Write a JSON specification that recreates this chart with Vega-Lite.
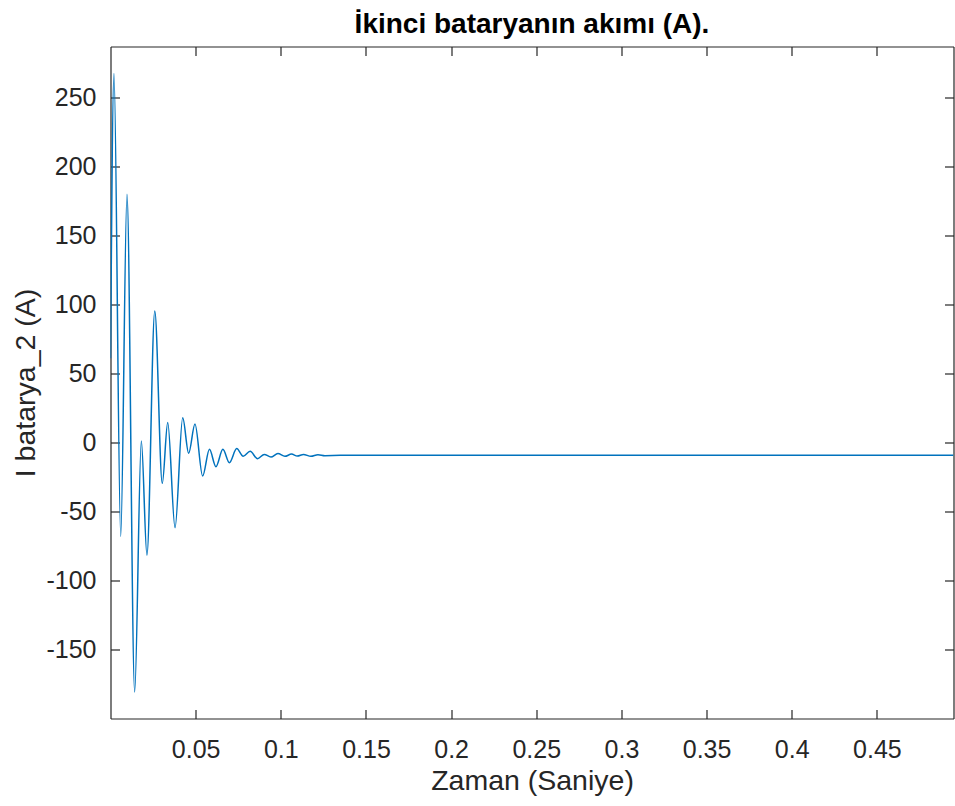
{
  "$schema": "https://vega.github.io/schema/vega-lite/v6.json",
  "width": 843,
  "height": 672,
  "autosize": {"type": "none"},
  "padding": {"left": 110.5, "top": 46.5, "right": 1.5, "bottom": 87.5},
  "background": "white",
  "config": {"view": {"stroke": null}, "font": "Liberation Sans"},
  "title": {"text": "İkinci bataryanın akımı (A).", "fontSize": 28, "fontWeight": "bold", "color": "black", "offset": -15, "baseline": "alphabetic", "anchor": "middle", "font": "Liberation Sans"},
  "data": {"values": [
    {"t": 0.0, "i": 61},
    {"t": 0.00205, "i": 267.5},
    {"t": 0.006, "i": -68},
    {"t": 0.00968, "i": 179.9},
    {"t": 0.0142, "i": -180.8},
    {"t": 0.0181, "i": 1.1},
    {"t": 0.0214, "i": -81.7},
    {"t": 0.026, "i": 95.4},
    {"t": 0.0304, "i": -29.6},
    {"t": 0.0336, "i": 14.5},
    {"t": 0.0379, "i": -61.7},
    {"t": 0.0424, "i": 17.9},
    {"t": 0.0459, "i": -7.8},
    {"t": 0.0496, "i": 13.4},
    {"t": 0.0541, "i": -24.3},
    {"t": 0.0581, "i": -4.9},
    {"t": 0.0619, "i": -17.5},
    {"t": 0.066, "i": -4.9},
    {"t": 0.0698, "i": -14.6},
    {"t": 0.0741, "i": -4.4},
    {"t": 0.0779, "i": -10.0},
    {"t": 0.082, "i": -6.4},
    {"t": 0.0863, "i": -11.7},
    {"t": 0.0903, "i": -8.6},
    {"t": 0.0942, "i": -10.5},
    {"t": 0.0983, "i": -8.0},
    {"t": 0.1024, "i": -10.0},
    {"t": 0.1063, "i": -8.4},
    {"t": 0.1097, "i": -9.8},
    {"t": 0.1133, "i": -8.6},
    {"t": 0.1177, "i": -10.0},
    {"t": 0.1218, "i": -8.8},
    {"t": 0.1259, "i": -9.5},
    {"t": 0.135, "i": -9.3},
    {"t": 0.495, "i": -9.3}
  ]},
  "layer": [
    {
      "mark": {"type": "line", "color": "#0072BD", "strokeWidth": 1.5, "interpolate": "monotone", "clip": true},
      "encoding": {
        "x": {"field": "t", "type": "quantitative",
          "scale": {"domain": [0, 0.495], "nice": false, "zero": false},
          "axis": {"orient": "bottom", "values": [0.05, 0.1, 0.15, 0.2, 0.25, 0.3, 0.35, 0.4, 0.45], "format": ".2~f",
            "grid": false, "tickSize": -9, "tickColor": "#262626", "tickWidth": 1.2, "domainColor": "#262626", "domainWidth": 1.2,
            "labelFont": "Liberation Sans", "labelFontSize": 25, "labelColor": "#262626", "labelPadding": 28,
            "title": "Zaman (Saniye)", "titleFont": "Liberation Sans", "titleFontSize": 28.5, "titleFontWeight": "normal", "titleColor": "#262626", "titlePadding": 4}},
        "y": {"field": "i", "type": "quantitative",
          "scale": {"domain": [-200, 287], "nice": false, "zero": false},
          "axis": {"orient": "left", "values": [-150, -100, -50, 0, 50, 100, 150, 200, 250],
            "labelExpr": "replace(datum.label, '−', '-')",
            "grid": false, "tickSize": -9, "tickColor": "#262626", "tickWidth": 1.2, "domainColor": "#262626", "domainWidth": 1.2,
            "labelFont": "Liberation Sans", "labelFontSize": 25, "labelColor": "#262626", "labelPadding": 23.5,
            "title": "I batarya_2 (A)", "titleFont": "Liberation Sans", "titleFontSize": 28.5, "titleFontWeight": "normal", "titleColor": "#262626", "titlePadding": 5}}
      }
    },
    {
      "mark": {"type": "line", "opacity": 0},
      "encoding": {
        "x": {"field": "t", "type": "quantitative",
          "axis": {"orient": "top", "values": [0.05, 0.1, 0.15, 0.2, 0.25, 0.3, 0.35, 0.4, 0.45], "labels": false, "title": null,
            "grid": false, "tickSize": -9, "tickColor": "#262626", "tickWidth": 1.2, "domainColor": "#262626", "domainWidth": 1.2}},
        "y": {"field": "i", "type": "quantitative",
          "axis": {"orient": "right", "values": [-150, -100, -50, 0, 50, 100, 150, 200, 250], "labels": false, "title": null,
            "grid": false, "tickSize": -9, "tickColor": "#262626", "tickWidth": 1.2, "domainColor": "#262626", "domainWidth": 1.2}}
      }
    }
  ],
  "resolve": {"axis": {"x": "independent", "y": "independent"}}
}
